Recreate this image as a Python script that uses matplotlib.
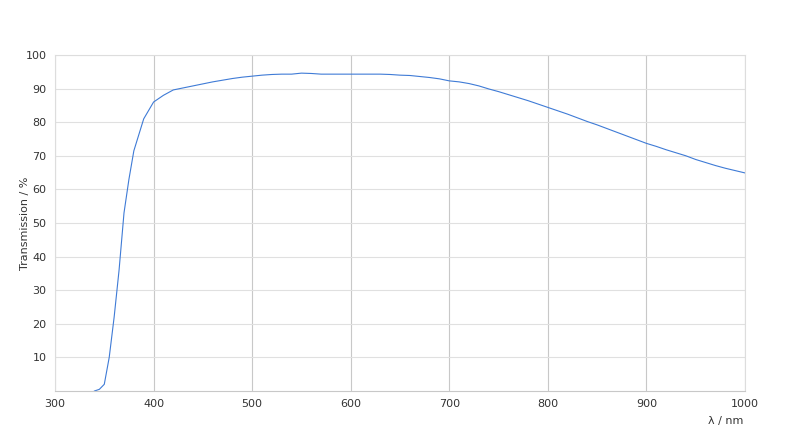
import matplotlib
matplotlib.use("Agg")
import matplotlib.pyplot as plt

# Transmissionskurve
wavelength = [340, 345, 350, 355, 360, 365, 370, 375, 380, 390, 400, 410, 420, 430,
              440, 450, 460, 470, 480, 490, 500, 510, 520, 530, 540, 550, 560, 570,
              580, 590, 600, 610, 620, 630, 640, 650, 660, 670, 680, 690, 700, 710,
              720, 730, 740, 750, 760, 770, 780, 790, 800, 810, 820, 830, 840, 850,
              860, 870, 880, 890, 900, 910, 920, 930, 940, 950, 960, 970, 980, 990, 1000]
transmission = [0, 0.5, 2, 10, 22, 36, 53, 63, 71.5, 81, 86, 88, 89.6, 90.2,
                90.8, 91.4, 92.0, 92.5, 93.0, 93.4, 93.7, 94.0, 94.2, 94.3, 94.3, 94.6, 94.5, 94.3,
                94.3, 94.3, 94.3, 94.3, 94.3, 94.3, 94.2, 94.0, 93.9, 93.6, 93.3, 92.9, 92.3, 92.0,
                91.5, 90.8, 89.9, 89.1, 88.2, 87.3, 86.4, 85.4, 84.4, 83.4, 82.4, 81.3, 80.2, 79.2,
                78.1, 77.0, 75.9, 74.8, 73.7, 72.8, 71.8, 70.9, 70.0, 68.9, 68.0, 67.1, 66.3, 65.6, 64.9]

xticks = [300, 400, 500, 600, 700, 800, 900, 1000]
yticks = [10, 20, 30, 40, 50, 60, 70, 80, 90, 100]

fig = plt.figure(figsize=(8, 4.46), dpi=100)
ax = fig.add_axes([0.06875, 0.1233, 0.8625, 0.7534])

ax.plot(wavelength, transmission, color='#3f7bd6', linewidth=0.8)

ax.set_xlim(300, 1000)
ax.set_ylim(0, 100)
ax.set_xticks(xticks)
ax.set_yticks(yticks)
ax.tick_params(length=0, labelsize=8, colors='#333333', pad=6)

ax.xaxis.grid(True, color='#c8c8c8', linewidth=0.8)
ax.yaxis.grid(True, color='#e0e0e0', linewidth=0.8)
ax.set_axisbelow(True)

for s in ['left', 'right', 'top']:
    ax.spines[s].set_color('#dddddd')
    ax.spines[s].set_linewidth(0.8)
ax.spines['bottom'].set_color('#c8c8c8')
ax.spines['bottom'].set_linewidth(0.8)

fig.text(0.9075, 0.056, 'λ / nm', fontsize=8, color='#333333', ha='center', va='center')
fig.text(0.031, 0.5, 'Transmission / %', fontsize=8, color='#333333', ha='center', va='center',
         rotation=90)

plt.savefig('out.png', dpi=100)
